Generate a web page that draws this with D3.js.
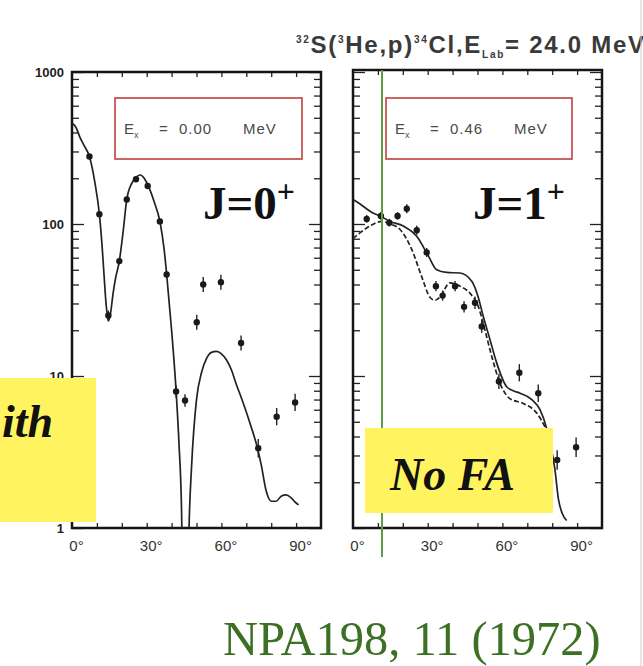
<!DOCTYPE html>
<html>
<head>
<meta charset="utf-8">
<script src="https://d3js.org/d3.v7.min.js"></script>
<style>
  body { margin: 0; background: #fff; }
  svg { display: block; }
  .frame { fill: none; stroke: #151515; stroke-width: 2.5; }
  .tick line { stroke: #222; stroke-width: 1.3; }
  .xlab text { font-family: "Liberation Sans", Arial, sans-serif; font-size: 15px; fill: #333; }
  .ylab text { font-family: "Liberation Sans", Arial, sans-serif; font-size: 13px; font-weight: bold; fill: #222; }
  .fit { fill: none; stroke: #222; stroke-width: 1.7; }
  .err { stroke: #222; stroke-width: 1.4; }
  .pt { fill: #1a1a1a; }
</style>
</head>
<body>
<script>
const W = 643, H = 666

// tick labels
const angleTicks = [0, 30, 60, 90]
const yTicks = [1, 10, 100, 1000]

// panel texts
const levelEnergies = ['0.00', '0.46']
const spins = ['0', '1']

// Ex = 0.00 MeV, measured points (deg, mb/sr) and relative error
const gsAngles = [7, 11, 14.6, 19, 22, 25.7, 30.4, 35.3, 38, 41.8, 45.4, 50.1, 52.7, 59.8, 67.9, 74.8, 82.2, 89.6]
const gsValues = [278, 116, 25, 57, 145, 197, 178, 104, 46.5, 7.9, 6.9, 22.6, 40, 41.4, 16.5, 3.35, 5.4, 6.7]
const gsErrors = [0.04, 0.04, 0.08, 0.05, 0.04, 0.04, 0.04, 0.04, 0.05, 0.1, 0.1, 0.12, 0.12, 0.12, 0.12, 0.15, 0.14, 0.14]

// Ex = 0.00 MeV, calculated curve
const gsFitAngles = [0, 1.5, 3.2, 5, 7, 9.2, 11, 12, 12.8, 13.6, 14.6, 15.5, 16.5, 17.5, 19, 20.5, 22, 24, 26, 27.5, 29, 30.5, 33, 35.3, 37, 38, 40, 41.8, 43, 44, 44.6,
  46.4, 47, 48, 50, 52, 54, 56, 58, 60, 62, 64, 66, 68, 70, 72, 74, 76, 78, 80, 82, 84, 86, 88, 90, 91]
const gsFitValues = [460, 435, 372, 325, 278, 187, 116, 75, 48, 31, 23, 26, 35, 44, 57, 88, 145, 185, 205, 210, 200, 180, 140, 104, 68, 47, 20, 8, 3.5, 1.3, 0.3,
  0.3, 1, 2.5, 7, 10.5, 13, 14.3, 14.5, 14, 12.8, 11, 8.8, 7.2, 5.8, 4.6, 3.6, 2.6, 1.75, 1.5, 1.5, 1.62, 1.65, 1.58, 1.46, 1.42]

// Ex = 0.46 MeV, measured points
const exAngles = [5.5, 11.2, 14.6, 17.9, 21.6, 25.6, 29.6, 33.3, 36, 41, 44.6, 49, 51.7, 58.6, 66.8, 74.4, 82, 89.6]
const exValues = [108, 113, 102, 113, 126, 91, 65, 39, 33.8, 39, 28.5, 30.3, 21.2, 9.2, 10.5, 7.7, 2.8, 3.4]
const exErrors = [0.06, 0.06, 0.06, 0.06, 0.07, 0.07, 0.07, 0.08, 0.08, 0.08, 0.09, 0.1, 0.1, 0.12, 0.14, 0.14, 0.16, 0.16]

// Ex = 0.46 MeV, calculated curves (solid and dashed)
const exFitAAngles = [0, 3, 6, 8, 10.8, 14.9, 20.2, 25.6, 30.3, 33.6, 37.6, 43, 47.7, 50.3, 52.3, 55, 57.7, 61.7, 64.4, 67.1, 71.8, 75.1, 77.8, 79.5, 81, 82.5, 84, 85.8]
const exFitAValues = [145, 135, 124, 118, 113, 104, 97, 83, 61.5, 50, 48, 47.6, 42, 33, 24.7, 17.4, 12.2, 8.5, 8, 7.7, 7, 6, 4.5, 3.4, 2.5, 1.55, 1.25, 1.12]
const exFitBAngles = [0, 3, 6.8, 11.5, 15, 18.9, 23.6, 27.6, 30.9, 33, 34.9, 38.9, 43, 47, 50.3, 53, 55.7, 59, 63, 68.4, 73.8, 77.8]
const exFitBValues = [80, 88, 97, 104, 100, 92, 68, 45, 33, 31.5, 33, 41, 39, 35, 28.7, 20, 13.5, 9, 7.1, 6.6, 5.7, 4.4]

const svg = d3.select('body').append('svg')
  .attr('width', W)
  .attr('height', H)

const y = d3.scaleLog().domain([1, 1000]).range([528, 72])
const bottom = 528

const panels = [
  {left: 72, right: 321, top: 72, pts: [gsAngles, gsValues, gsErrors], fits: [[gsFitAngles, gsFitValues, null]],
   box: {x: 115, y: 98, w: 187, h: 61}, jx: 203},
  {left: 353, right: 602, top: 70, pts: [exAngles, exValues, exErrors],
   fits: [[exFitAAngles, exFitAValues, null], [exFitBAngles, exFitBValues, '5,2.5']],
   box: {x: 386, y: 98, w: 186, h: 61}, jx: 473}
]

const isMajor = d => Number.isInteger(Math.log10(d))

panels.forEach((p, i) => {
  const x = d3.scaleLinear().domain([0, 100]).range([p.left, p.right])
  const g = svg.append('g')

  // y ticks, inside on both sides
  g.append('g')
    .attr('transform', 'translate(' + p.left + ',0)')
    .call(d3.axisRight(y).tickValues(y.ticks()).tickSize(7).tickFormat(''))
    .call(a => a.select('.domain').remove())
    .call(a => a.selectAll('.tick line').attr('x2', d => isMajor(d) ? 12 : 7))
  g.append('g')
    .attr('transform', 'translate(' + p.right + ',0)')
    .call(d3.axisLeft(y).tickValues(y.ticks()).tickSize(7).tickFormat(''))
    .call(a => a.select('.domain').remove())
    .call(a => a.selectAll('.tick line').attr('x2', d => isMajor(d) ? -12 : -7))

  // x ticks every 10 deg, inside top and bottom
  const xt = d3.range(10, 100, 10)
  g.append('g')
    .attr('transform', 'translate(0,' + bottom + ')')
    .call(d3.axisTop(x).tickValues(xt).tickSize(5).tickFormat(''))
    .call(a => a.select('.domain').remove())
  g.append('g')
    .attr('transform', 'translate(0,' + p.top + ')')
    .call(d3.axisBottom(x).tickValues(xt).tickSize(5).tickFormat(''))
    .call(a => a.select('.domain').remove())

  // x labels
  g.append('g')
    .attr('class', 'xlab')
    .attr('transform', 'translate(0,' + bottom + ')')
    .call(d3.axisBottom(x).tickValues(angleTicks).tickSize(0).tickPadding(12).tickFormat(d => d + '°'))
    .call(a => a.select('.domain').remove())
    .call(a => a.selectAll('text').attr('dx', 4))

  if (i === 0) {
    g.append('g')
      .attr('class', 'ylab')
      .attr('transform', 'translate(64,0)')
      .call(d3.axisLeft(y).tickValues(yTicks).tickSize(0).tickPadding(0).tickFormat(d3.format('d')))
      .call(a => a.select('.domain').remove())
  }

  // frame
  g.append('rect')
    .attr('class', 'frame')
    .attr('x', p.left).attr('y', p.top)
    .attr('width', p.right - p.left).attr('height', bottom - p.top)

  // curves
  const clipId = 'clip' + i
  svg.append('clipPath').attr('id', clipId)
    .append('rect')
    .attr('x', p.left).attr('y', p.top)
    .attr('width', p.right - p.left).attr('height', bottom - p.top)

  const line = d3.line()
    .x(d => x(d[0]))
    .y(d => y(d[1]))
    .curve(d3.curveMonotoneX)

  p.fits.forEach(f => {
    g.append('path')
      .attr('class', 'fit')
      .attr('clip-path', 'url(#' + clipId + ')')
      .attr('stroke-dasharray', f[2])
      .attr('d', line(d3.zip(f[0], f[1])))
  })

  // points with error bars
  const pts = d3.zip(p.pts[0], p.pts[1], p.pts[2])
  g.append('g').selectAll('line')
    .data(pts)
    .enter().append('line')
    .attr('class', 'err')
    .attr('x1', d => x(d[0])).attr('x2', d => x(d[0]))
    .attr('y1', d => y(d[1] * (1 + d[2])))
    .attr('y2', d => y(d[1] / (1 + d[2])))
  g.append('g').selectAll('circle')
    .data(pts)
    .enter().append('circle')
    .attr('class', 'pt')
    .attr('cx', d => x(d[0]))
    .attr('cy', d => y(d[1]))
    .attr('r', 3.2)

  // excitation energy box
  const b = p.box
  g.append('rect')
    .attr('x', b.x).attr('y', b.y).attr('width', b.w).attr('height', b.h)
    .attr('fill', 'none').attr('stroke', '#c0403c').attr('stroke-width', 1.6)
  const lbl = g.append('g')
    .style('font-family', '"Liberation Sans", Arial, sans-serif')
    .style('font-size', '15px')
    .style('fill', '#4a4a4a')
  const e = lbl.append('text').attr('x', b.x + 9).attr('y', b.y + 36)
  e.append('tspan').text('E')
  e.append('tspan').attr('dy', 4).style('font-size', '9px').text('x')
  lbl.append('text').attr('x', b.x + 44).attr('y', b.y + 36).text('=')
  lbl.append('text').attr('x', b.x + 64).attr('y', b.y + 36).style('letter-spacing', '1px').text(levelEnergies[i])
  lbl.append('text').attr('x', b.x + 128).attr('y', b.y + 36).style('letter-spacing', '1px').text('MeV')

  // spin label
  const j = g.append('text')
    .attr('x', p.jx).attr('y', 219)
    .style('font-family', '"Liberation Serif", "Times New Roman", serif')
    .style('font-size', '47px')
    .style('font-weight', 'bold')
    .style('fill', '#111')
  j.append('tspan').text('J=' + spins[i])
  j.append('tspan').attr('dy', -17).style('font-size', '32px').text('+')
})

// green marker line on the right panel
svg.append('line')
  .attr('x1', 382).attr('x2', 382).attr('y1', 70).attr('y2', 557)
  .attr('stroke', '#5c9e45').attr('stroke-width', 2)

// title
const t = svg.append('text')
  .attr('x', 296).attr('y', 53)
  .attr('textLength', 348).attr('lengthAdjust', 'spacing')
  .style('font-family', '"Liberation Sans", Arial, sans-serif')
  .style('font-size', '24px')
  .style('font-weight', 'bold')
  .style('fill', '#3a3a3a')
t.append('tspan').attr('dy', -10).style('font-size', '10px').text('32')
t.append('tspan').attr('dy', 10).text('S(')
t.append('tspan').attr('dy', -10).style('font-size', '10px').text('3')
t.append('tspan').attr('dy', 10).text('He,p)')
t.append('tspan').attr('dy', -10).style('font-size', '10px').text('34')
t.append('tspan').attr('dy', 10).text('Cl,E')
t.append('tspan').attr('dy', 5).style('font-size', '10px').text('Lab')
t.append('tspan').attr('dy', -5).text('= 24.0 MeV')

// highlight boxes
svg.append('rect').attr('x', 0).attr('y', 378).attr('width', 96).attr('height', 144).attr('fill', '#fff460')
svg.append('text')
  .attr('x', 2).attr('y', 437)
  .style('font-family', '"Liberation Serif", "Times New Roman", serif')
  .style('font-size', '46px').style('font-weight', 'bold').style('font-style', 'italic')
  .style('fill', '#111')
  .text('ith')
svg.append('rect').attr('x', 365).attr('y', 428).attr('width', 188).attr('height', 85).attr('fill', '#fff460')
svg.append('text')
  .attr('x', 390).attr('y', 490)
  .style('font-family', '"Liberation Serif", "Times New Roman", serif')
  .style('font-size', '46px').style('font-weight', 'bold').style('font-style', 'italic')
  .style('fill', '#111')
  .text('No FA')

// reference
svg.append('text')
  .attr('x', 223).attr('y', 655)
  .style('font-family', '"Liberation Serif", "Times New Roman", serif')
  .style('font-size', '48.5px')
  .style('fill', '#3c7024')
  .text('NPA198, 11 (1972)')

// slide edge
svg.append('line')
  .attr('x1', 641).attr('x2', 641).attr('y1', 0).attr('y2', H)
  .attr('stroke', '#cfcfcf').attr('stroke-width', 1)
</script>
</body>
</html>
